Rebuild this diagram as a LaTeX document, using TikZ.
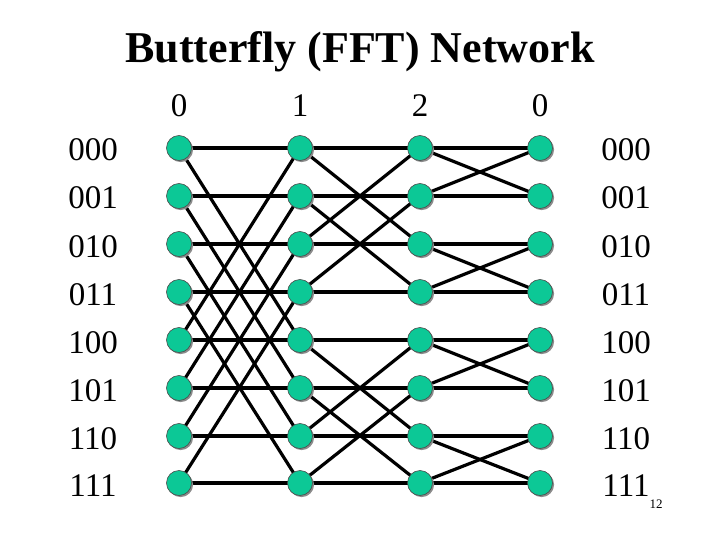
\documentclass[tikz,border=0pt]{standalone}
\usepackage{fontspec}
\setmainfont{Liberation Serif}
\usetikzlibrary{shadows,backgrounds}
\definecolor{nodegreen}{RGB}{12,200,150}
\begin{document}
\begin{tikzpicture}[x=1pt,y=-1pt,
  vert/.style={circle, minimum size=25pt, inner sep=0pt, fill=nodegreen, draw=black!70, line width=0.6pt,
    drop shadow={shadow xshift=1.6pt, shadow yshift=-1.6pt, fill=black!45, opacity=1}},
  edge/.style={line width=3.2pt, black},
  lbl/.style={font=\fontsize{33}{33}\selectfont, anchor=base, inner sep=0pt}]
\useasboundingbox (0,0) rectangle (720,540);
\node[font=\bfseries\fontsize{44}{44}\selectfont, anchor=base, inner sep=0pt] (title) at (360,63) {Butterfly (FFT) Network};
\foreach \c/\x/\t in {0/179/0,1/300/1,2/420/2,3/540/0}
  \node[lbl] (col\c) at (\x,117) {\t};
\foreach \r/\y/\t in {0/148/000,1/196/001,2/244/010,3/292/011,4/340/100,5/388/101,6/436/110,7/483/111}{
  \node[lbl] (left\r) at (93,\y+13) {\t};
  \node[lbl] (right\r) at (626,\y+13) {\t};
  \foreach \c/\x in {0/179,1/300,2/420,3/540}
    \node[vert] (n\c\r) at (\x,\y) {};
}
\node[font=\fontsize{13}{13}\selectfont, anchor=base, inner sep=0pt] (pagenum) at (656,508) {12};
\begin{pgfonlayer}{background}
  \foreach \r in {0,...,7}{
    \draw[edge] (n0\r.center) -- (n1\r.center);
    \draw[edge] (n1\r.center) -- (n2\r.center);
    \draw[edge] (n2\r.center) -- (n3\r.center);
  }
  \foreach \a/\b in {0/4,1/5,2/6,3/7,4/0,5/1,6/2,7/3}
    \draw[edge] (n0\a.center) -- (n1\b.center);
  \foreach \a/\b in {0/2,1/3,2/0,3/1,4/6,5/7,6/4,7/5}
    \draw[edge] (n1\a.center) -- (n2\b.center);
  \foreach \a/\b in {0/1,1/0,2/3,3/2,4/5,5/4,6/7,7/6}
    \draw[edge] (n2\a.center) -- (n3\b.center);
\end{pgfonlayer}
\end{tikzpicture}
\end{document}
